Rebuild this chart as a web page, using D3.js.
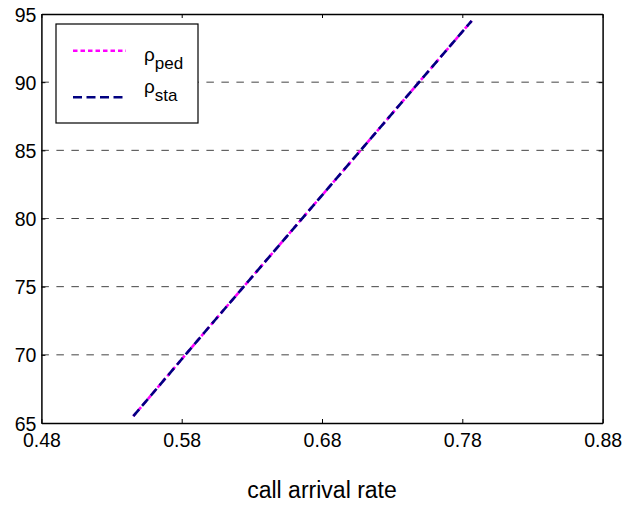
<!DOCTYPE html>
<html>
<head>
<meta charset="utf-8">
<script src="https://cdn.jsdelivr.net/npm/d3@7"></script>
<style>
  body { margin: 0; background: #fff; }
  svg { display: block; font-family: "Liberation Sans", Arial, sans-serif; }
</style>
</head>
<body>
<div id="chartContainer"></div>
<script>

// call arrival rate vs. rho (both series lie on top of each other)
var arrivalRate = [0.5455, 0.60, 0.65, 0.70, 0.75, 0.7867]
var rhoPed = [65.5, 72.1, 78.1, 84.1, 90.1, 94.5]
var rhoSta = [65.5, 72.1, 78.1, 84.1, 90.1, 94.5]
var xTicks = [0.48, 0.58, 0.68, 0.78, 0.88]
var yTicks = [65, 70, 75, 80, 85, 90, 95]

var width = 625, height = 505
var margin = { top: 14, right: 22.4, bottom: 82, left: 41.4 }

var svg = d3.select('#chartContainer').append('svg')
    .attr('width', width)
    .attr('height', height)

var xScale = d3.scaleLinear()
    .domain([0.48, 0.88])
    .range([margin.left, width - margin.right])

var yScale = d3.scaleLinear()
    .domain([65, 95])
    .range([height - margin.bottom, margin.top])

// horizontal dashed grid
svg.append('g')
    .attr('class', 'grid')
    .selectAll('line')
    .data(yTicks.filter(function(d) { return d > 65 && d < 95 }))
    .enter().append('line')
    .attr('x1', xScale(0.48))
    .attr('x2', xScale(0.88))
    .attr('y1', function(d) { return yScale(d) })
    .attr('y2', function(d) { return yScale(d) })
    .style('stroke', '#444')
    .style('stroke-width', 1)
    .style('stroke-dasharray', '7.5,7.5')

// axes (ticks pointing inward, box on all sides)
var fmtX = d3.format('.2f')
var xAxis = svg.append('g')
    .attr('transform', 'translate(0,' + yScale(65) + ')')
    .call(d3.axisBottom(xScale).tickValues(xTicks).tickFormat(fmtX).tickSizeInner(-4).tickSizeOuter(0).tickPadding(10))
var xAxisTop = svg.append('g')
    .attr('transform', 'translate(0,' + yScale(95) + ')')
    .call(d3.axisTop(xScale).tickValues(xTicks).tickFormat('').tickSizeInner(-4).tickSizeOuter(0))
var yAxis = svg.append('g')
    .attr('transform', 'translate(' + xScale(0.48) + ',0)')
    .call(d3.axisLeft(yScale).tickValues(yTicks).tickSizeInner(-4).tickSizeOuter(0).tickPadding(5))
var yAxisRight = svg.append('g')
    .attr('transform', 'translate(' + xScale(0.88) + ',0)')
    .call(d3.axisRight(yScale).tickValues(yTicks).tickFormat('').tickSizeInner(-4).tickSizeOuter(0))

svg.selectAll('.domain').style('stroke', '#000').style('stroke-width', 1.5)
svg.selectAll('.tick line').style('stroke', '#000')
svg.selectAll('.tick text')
    .style('font-size', '19.5px')
    .style('fill', '#000')
    .style('font-family', '"Liberation Sans", Arial, sans-serif')

yAxis.selectAll('.tick text').attr('dy', '0.36em')

svg.append('text')
    .attr('x', (xScale(0.48) + xScale(0.88)) / 2)
    .attr('y', 498)
    .attr('text-anchor', 'middle')
    .style('font-size', '23px')
    .text('call arrival rate')

var lineFn = function(ys) {
    return d3.line()
        .x(function(d, i) { return xScale(arrivalRate[i]) })
        .y(function(d) { return yScale(d) })(ys)
}

svg.append('path')
    .attr('d', lineFn(rhoPed))
    .style('fill', 'none')
    .style('stroke', '#ff00ff')
    .style('stroke-width', 2.6)
    .style('stroke-dasharray', '4.5,3')

svg.append('path')
    .attr('d', lineFn(rhoSta))
    .style('fill', 'none')
    .style('stroke', '#000080')
    .style('stroke-width', 2.6)
    .style('stroke-dasharray', '9,4.5')

// legend
var legend = svg.append('g').attr('class', 'legend')
legend.append('rect')
    .attr('x', 56)
    .attr('y', 24)
    .attr('width', 142)
    .attr('height', 99)
    .style('fill', '#fff')
    .style('stroke', '#000')
    .style('stroke-width', 1.2)

var legendItems = [
    { sub: 'ped', color: '#ff00ff', dash: '4.5,3', y: 50.7 },
    { sub: 'sta', color: '#000080', dash: '9,4.5', y: 97.3 }
]

legendItems.forEach(function(item, i) {
    legend.append('line')
        .attr('x1', 73).attr('x2', 126)
        .attr('y1', item.y).attr('y2', item.y)
        .style('stroke', item.color)
        .style('stroke-width', 2.6)
        .style('stroke-dasharray', item.dash)
    var t = legend.append('text')
        .attr('x', 144)
        .attr('y', i === 0 ? 61 : 93)
        .style('font-size', '19px')
    t.append('tspan').text('ρ')
    t.append('tspan')
        .attr('dy', 8)
        .style('font-size', '17px')
        .text(item.sub)
})

</script>
</body>
</html>
